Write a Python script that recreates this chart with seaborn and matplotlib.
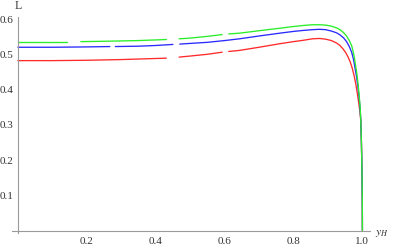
import numpy as np
import pandas as pd
import matplotlib
matplotlib.use("Agg")
import matplotlib.pyplot as plt
import seaborn as sns

nan = np.nan

# curve samples (np.nan marks a gap in the drawn line)
red_x = [0.0, 0.1, 0.2, 0.3, 0.431, nan, 0.468, 0.5, 0.55, 0.593, nan, 0.612, 0.643, 0.7, 0.76, 0.8,
         0.83, 0.855, 0.875, 0.893, 0.91, 0.925, 0.935, 0.944, 0.952, 0.959, 0.965, 0.97, 0.976, 0.981,
         0.986, 0.99, 0.993, 0.995, 0.997, 0.998, 0.999, 0.9997, 1.0]
red_y = [0.483, 0.483, 0.484, 0.486, 0.490, nan, 0.493, 0.496, 0.501, 0.507, nan, 0.509, 0.512, 0.521, 0.531, 0.537,
         0.541, 0.545, 0.546, 0.544, 0.540, 0.533, 0.526, 0.516, 0.505, 0.492, 0.478, 0.463, 0.440, 0.415,
         0.385, 0.358, 0.335, 0.315, 0.255, 0.205, 0.145, 0.080, 0.0]

blue_x = [0.0, 0.1, 0.2, 0.267, nan, 0.283, 0.35, 0.4, 0.45, nan, 0.47, 0.55, 0.6, 0.643, 0.7, 0.76, 0.8,
          0.83, 0.855, 0.875, 0.893, 0.91, 0.925, 0.935, 0.945, 0.954, 0.962, 0.969, 0.974, 0.978, 0.983,
          0.987, 0.99, 0.993, 0.995, 0.997, 0.998, 0.999, 0.9997, 1.0]
blue_y = [0.521, 0.521, 0.522, 0.523, nan, 0.523, 0.524, 0.526, 0.529, nan, 0.530, 0.535, 0.540, 0.545, 0.553, 0.561, 0.566,
          0.569, 0.571, 0.572, 0.571, 0.567, 0.562, 0.556, 0.548, 0.537, 0.523, 0.506, 0.487, 0.465, 0.437,
          0.408, 0.382, 0.350, 0.318, 0.255, 0.205, 0.145, 0.080, 0.0]

green_x = [0.0, 0.05, 0.1, 0.144, nan, 0.183, 0.25, 0.3, 0.35, 0.431, nan, 0.468, 0.5, 0.55, 0.593, nan, 0.612, 0.643,
           0.7, 0.76, 0.8, 0.83, 0.855, 0.875, 0.893, 0.91, 0.925, 0.935, 0.945, 0.954, 0.962, 0.969, 0.974,
           0.978, 0.983, 0.987, 0.99, 0.993, 0.995, 0.997, 0.998, 0.999, 0.9997, 1.0]
green_y = [0.536, 0.536, 0.536, 0.536, nan, 0.537, 0.538, 0.539, 0.540, 0.543, nan, 0.545, 0.547, 0.552, 0.557, nan, 0.559, 0.561,
           0.568, 0.575, 0.580, 0.583, 0.585, 0.585, 0.584, 0.581, 0.576, 0.571, 0.563, 0.553, 0.540, 0.525, 0.505,
           0.483, 0.452, 0.420, 0.390, 0.355, 0.320, 0.255, 0.205, 0.145, 0.080, 0.0]

curve_names = ["red", "blue", "green"]
curve_colors = {"red": "#ff2a2a", "blue": "#2a2aff", "green": "#2aee2a"}

x_ticks = [0.2, 0.4, 0.6, 0.8, 1.0]
x_tick_labels = ["0.2", "0.4", "0.6", "0.8", "1.0"]
y_ticks = [0.1, 0.2, 0.3, 0.4, 0.5, 0.6]
y_tick_labels = ["0.1", "0.2", "0.3", "0.4", "0.5", "0.6"]

rows = []
for name, xs, ys in [("red", red_x, red_y), ("blue", blue_x, blue_y), ("green", green_x, green_y)]:
    seg = 0
    for xv, yv in zip(xs, ys):
        if np.isnan(xv):
            seg += 1
            continue
        rows.append({"x": xv, "y": yv, "curve": name, "seg": f"{name}{seg}"})
df = pd.DataFrame(rows)

sns.set_style("white")
plt.rcParams["font.family"] = ["Liberation Serif", "DejaVu Serif"]

fig = plt.figure(figsize=(3.93, 2.5), dpi=100)
ax = fig.add_axes([12 / 393, 17 / 250, 358 / 393, 216 / 250])

sns.lineplot(data=df, x="x", y="y", hue="curve", units="seg", estimator=None, sort=False,
             hue_order=curve_names, palette=curve_colors, linewidth=0.95, legend=False, ax=ax)
for line in ax.get_lines():
    line.set_solid_joinstyle("round")

ax.set_xlim(-0.017, 1.022)
ax.set_ylim(-0.007, 0.607)

axis_color = "#9a9a9a"
for s in ["top", "right"]:
    ax.spines[s].set_visible(False)
for s in ["left", "bottom"]:
    ax.spines[s].set_position(("data", 0))
    ax.spines[s].set_color(axis_color)
    ax.spines[s].set_linewidth(0.8)

ax.set_xticks(x_ticks)
ax.set_xticklabels(x_tick_labels)
ax.set_yticks(y_ticks)
ax.set_yticklabels(y_tick_labels)
ax.set_xticks(np.arange(0.05, 1.01, 0.05), minor=True)
ax.set_yticks(np.arange(0.02, 0.601, 0.02), minor=True)

ax.tick_params(axis="both", which="major", direction="in", length=4, width=0.7, color=axis_color,
               labelsize=8, labelcolor="#333333", pad=3)
ax.tick_params(axis="both", which="minor", direction="in", length=2.3, width=0.6, color=axis_color)
ax.tick_params(axis="x", which="major", pad=4.5)

ax.set_xlabel("")
ax.set_ylabel("")
ax.grid(False)

fig.text(18 / 393, 1 - 6 / 250, "L", ha="center", va="center", fontsize=8.5, color="#333333")
fig.text(382 / 393, 1 - 233 / 250, r"$y_H$", ha="center", va="center", fontsize=8.5, color="#333333",
         math_fontfamily="stix")

fig.savefig("out.png", dpi=100)
